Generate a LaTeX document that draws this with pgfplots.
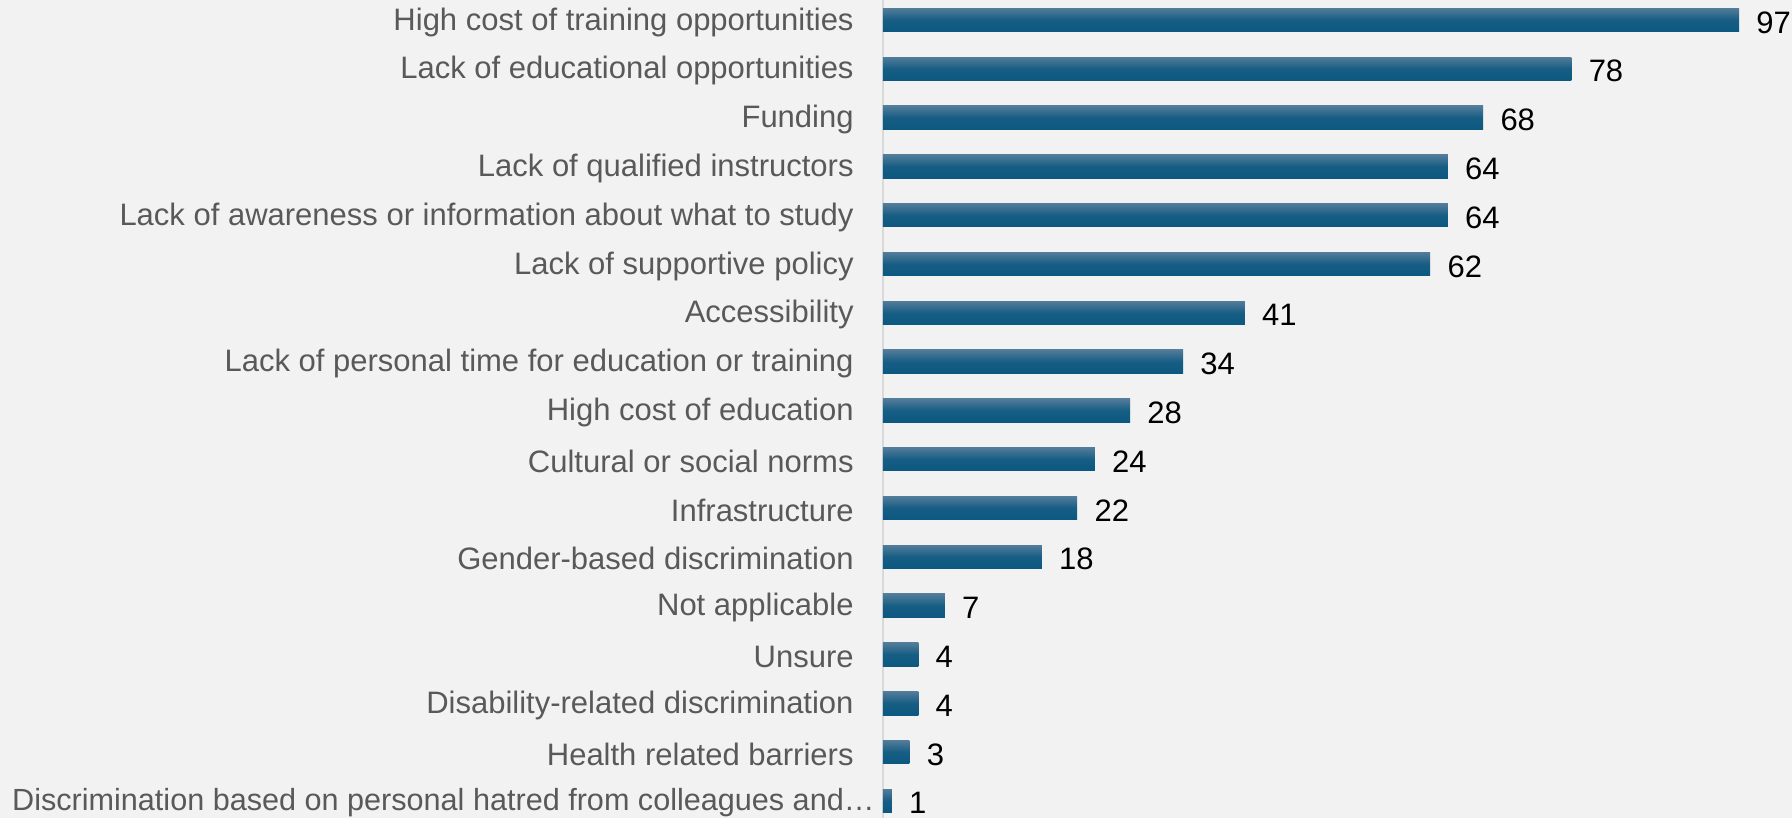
\documentclass[border=0pt]{standalone}
\usepackage{fontspec}
\setmainfont{Liberation Sans}
\usepackage{pgfplots}
\pgfplotsset{compat=1.18}
\definecolor{bgcol}{HTML}{F2F2F2}
\definecolor{labcol}{HTML}{595959}
\definecolor{axcol}{HTML}{D9D9D9}
\definecolor{bartop}{RGB}{82,124,154}
\definecolor{barbot}{RGB}{12,88,128}
\begin{document}
\begin{tikzpicture}
\useasboundingbox (-441.5pt,0pt) rectangle (454.5pt,409pt);
\fill[bgcol] (-441.5pt,0pt) rectangle (454.5pt,409pt);
\begin{axis}[
  at={(0pt,0pt)}, anchor=south west,
  scale only axis, width=441.25pt, height=409pt,
  xbar, bar width=0.48, bar shift=0pt,
  xmin=0, xmax=100, ymin=-0.35, ymax=16.41,
  axis y line*=left, axis x line=none,
  y axis line style={draw=axcol, line width=1pt},
  xtick=\empty,
  ytick={0,...,16},
  yticklabels={{\fontsize{15.3}{18}\selectfont Discrimination based on personal hatred from colleagues and…}\kern-10.5pt,
    Health related barriers, Disability-related discrimination, Unsure,
    Not applicable, Gender-based discrimination, Infrastructure,
    Cultural or social norms, High cost of education,
    Lack of personal time for education or training, Accessibility,
    Lack of supportive policy, Lack of awareness or information about what to study,
    Lack of qualified instructors, Funding, Lack of educational opportunities,
    High cost of training opportunities},
  major tick length=0pt,
  yticklabel style={anchor=east, inner sep=0pt, xshift=-14.5pt, yshift=-1pt, font=\fontsize{15.5}{18}\selectfont, text=labcol},
  /pgf/number format/assume math mode=true,
  nodes near coords,
  every node near coord/.append style={anchor=west, inner sep=0pt, xshift=8.5pt, yshift=-1.2pt, font=\fontsize{15.5}{18}\selectfont, text=black},
  clip=false,
  barstyle/.style={draw=none,
    top color=bartop, bottom color=barbot, middle color=barbot!85!bartop},
]
\addplot[barstyle] coordinates {(1,0)};
\addplot[barstyle] coordinates {(3,1)};
\addplot[barstyle] coordinates {(4,2)};
\addplot[barstyle] coordinates {(4,3)};
\addplot[barstyle] coordinates {(7,4)};
\addplot[barstyle] coordinates {(18,5)};
\addplot[barstyle] coordinates {(22,6)};
\addplot[barstyle] coordinates {(24,7)};
\addplot[barstyle] coordinates {(28,8)};
\addplot[barstyle] coordinates {(34,9)};
\addplot[barstyle] coordinates {(41,10)};
\addplot[barstyle] coordinates {(62,11)};
\addplot[barstyle] coordinates {(64,12)};
\addplot[barstyle] coordinates {(64,13)};
\addplot[barstyle] coordinates {(68,14)};
\addplot[barstyle] coordinates {(78,15)};
\addplot[barstyle] coordinates {(97,16)};
\end{axis}
\end{tikzpicture}
\end{document}
